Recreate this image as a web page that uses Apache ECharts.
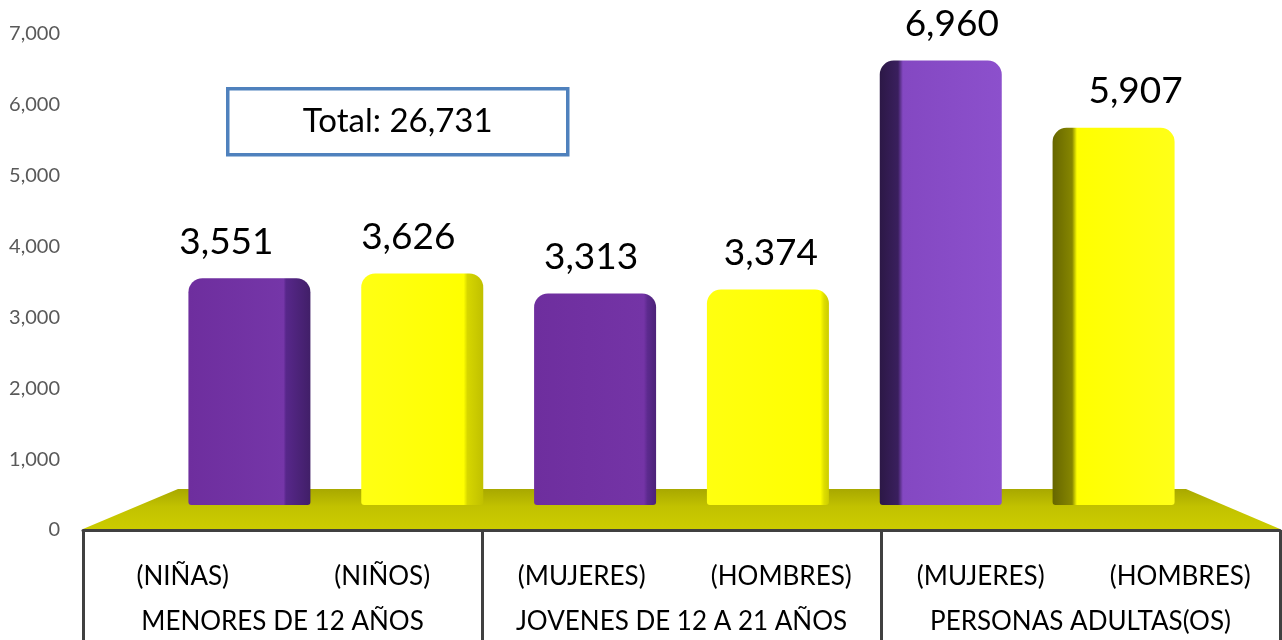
<!DOCTYPE html>
<html>
<head>
<meta charset="UTF-8">
<title>Poblacion por grupo de edad</title>
<script type="text/javascript" src="https://cdn.jsdelivr.net/npm/echarts@6/dist/echarts.min.js"></script>
<style>
  html, body { margin: 0; padding: 0; background: #fff; }
</style>
</head>
<body>
<div id="main" style="width:1282px;height:640px"></div>

<script type="text/javascript">
  // datos
  var subcats = ['(NIÑAS)', '(NIÑOS)', '(MUJERES)', '(HOMBRES)', '(MUJERES)', '(HOMBRES)'];
  var groups = ['MENORES DE 12 AÑOS', 'JOVENES DE 12 A 21 AÑOS', 'PERSONAS ADULTAS(OS)'];
  var values = [3551, 3626, 3313, 3374, 6960, 5907];
  var yMax = 7000;
  var yStep = 1000;

  var total = 0;
  for (var i = 0; i < values.length; i++) total += values[i];

  function fmt(v) { return Number(v).toLocaleString('en-US'); }

  // desplazamiento horizontal de etiquetas (efecto perspectiva)
  var labelShift = [-23, -14, -4, 3, 11, 22];

  var G = echarts.graphic.LinearGradient;
  // colores "3D": cara frontal + lateral oscura
  var barColors = [
    new G(0, 0, 1, 0, [{offset: 0, color: '#6e2e9e'}, {offset: 0.78, color: '#7536a8'}, {offset: 0.8, color: '#57278a'}, {offset: 1, color: '#411f68'}]),
    new G(0, 0, 1, 0, [{offset: 0, color: '#ffff14'}, {offset: 0.84, color: '#ffff00'}, {offset: 0.87, color: '#d6d600'}, {offset: 1, color: '#c0c000'}]),
    new G(0, 0, 1, 0, [{offset: 0, color: '#6e2e9e'}, {offset: 0.9, color: '#7434a6'}, {offset: 0.93, color: '#5c2a8e'}, {offset: 1, color: '#4c2278'}]),
    new G(0, 0, 1, 0, [{offset: 0, color: '#ffff10'}, {offset: 0.93, color: '#ffff00'}, {offset: 0.96, color: '#dede00'}, {offset: 1, color: '#cccc00'}]),
    new G(0, 0, 1, 0, [{offset: 0, color: '#2c1846'}, {offset: 0.15, color: '#3a1f5e'}, {offset: 0.19, color: '#8448c2'}, {offset: 1, color: '#8c50cc'}]),
    new G(0, 0, 1, 0, [{offset: 0, color: '#666600'}, {offset: 0.16, color: '#868600'}, {offset: 0.2, color: '#ffff00'}, {offset: 1, color: '#ffff18'}])
  ];

  var barData = [];
  for (var j = 0; j < values.length; j++) {
    barData.push({
      value: values[j],
      itemStyle: { color: barColors[j] },
      label: { offset: [labelShift[j], 0] }
    });
  }

  var mychart = echarts.init(document.getElementById('main'));
  var option = {
    backgroundColor: '#fff',
    animation: false,
    textStyle: { fontFamily: 'Lato' },
    grid: [
      // plano de fondo donde "se apoyan" las barras
      { left: 163, right: 82, top: 58, height: 447 },
      // plano frontal: escala y tabla de categorias
      { left: 83, right: 2, top: 34, height: 496 }
    ],
    xAxis: [
      { gridIndex: 0, type: 'category', data: subcats, show: false },
      {
        gridIndex: 1, type: 'category', data: subcats, position: 'bottom',
        axisLine: { show: true, lineStyle: { color: '#404040', width: 3 } },
        axisTick: { show: false },
        axisLabel: { color: '#000', fontSize: 26, margin: 34, interval: 0 }
      },
      {
        gridIndex: 1, type: 'category', data: groups, position: 'bottom',
        axisLine: { show: false },
        axisTick: { show: true, length: 112, interval: 0, lineStyle: { color: '#404040', width: 3 } },
        axisLabel: { color: '#000', fontSize: 26, margin: 79, interval: 0 }
      }
    ],
    yAxis: [
      { gridIndex: 0, type: 'value', min: 0, max: yMax, interval: yStep, show: false },
      {
        gridIndex: 1, type: 'value', min: 0, max: yMax, interval: yStep,
        axisLine: { show: false }, axisTick: { show: false }, splitLine: { show: false },
        axisLabel: { color: '#595959', fontSize: 20, margin: 23, formatter: fmt }
      }
    ],
    graphic: [
      {
        // piso
        type: 'polygon', z: 0,
        shape: { points: [[83, 529], [178, 489], [1186, 489], [1280, 529]] },
        style: {
          fill: new G(0, 0, 0, 1, [{offset: 0, color: '#a8a800'}, {offset: 0.45, color: '#c2c200'}, {offset: 1, color: '#cccc00'}])
        }
      },
      {
        type: 'group', left: 226, top: 87, z: 10,
        children: [
          { type: 'rect', shape: { x: 0, y: 0, width: 340, height: 66 }, style: { fill: '#fff', stroke: '#4f81bd', lineWidth: 3.5 } },
          { type: 'text', x: 170, y: 33, style: { text: 'Total: ' + fmt(total), fontSize: 33, fontFamily: 'Lato', fill: '#000', align: 'center', verticalAlign: 'middle' } }
        ]
      }
    ],
    series: [{
      type: 'bar',
      xAxisIndex: 0, yAxisIndex: 0,
      barWidth: 122,
      data: barData,
      itemStyle: { borderRadius: [14, 14, 3, 3] },
      label: {
        show: true, position: 'top', distance: 18,
        fontSize: 37, fontFamily: 'Lato', color: '#000',
        formatter: function (p) { return fmt(p.value); }
      }
    }]
  };
  mychart.setOption(option);
</script>
</body>
</html>
